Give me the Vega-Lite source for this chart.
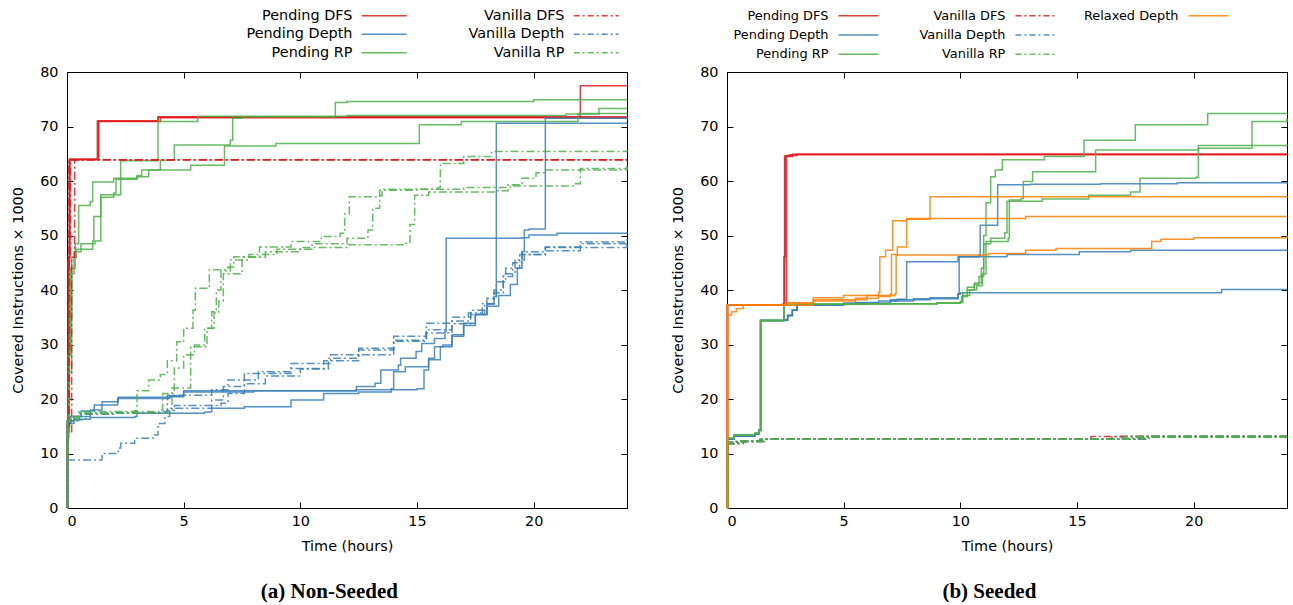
{
"$schema":"https://vega.github.io/schema/vega-lite/v6.json",
"background":"white",
"padding":{"left":10,"top":8,"right":4,"bottom":0},
"config":{
 "font":"DejaVu Sans",
 "view":{"stroke":"black","strokeWidth":1},
 "axis":{"grid":false,"labelFont":"DejaVu Sans","titleFont":"DejaVu Sans","labelFontSize":14.4,"titleFontSize":14.4,"titleFontWeight":"normal","labelColor":"#000","titleColor":"#000","domainColor":"#000","tickColor":"#000","domainWidth":1,"tickWidth":1,"tickSize":-6},
 "legend":{"orient":"none","title":null,"labelFont":"DejaVu Sans","labelFontSize":14.4,"labelColor":"#000","labelAlign":"right","symbolType":"M-4,0H4","symbolStrokeWidth":1.5,"rowPadding":3.5,"padding":0,"labelLimit":300}
},
"datasets":{
"aP":[
{"s":"Pending DFS","r":1,"t":0,"v":0},{"s":"Pending DFS","r":1,"t":0.02,"v":15},{"s":"Pending DFS","r":1,"t":0.05,"v":46},{"s":"Pending DFS","r":1,"t":0.1,"v":64},{"s":"Pending DFS","r":1,"t":1.34,"v":71},{"s":"Pending DFS","r":1,"t":3.9,"v":71.8},{"s":"Pending DFS","r":1,"t":24,"v":71.9},
{"s":"Pending DFS","r":2,"t":0,"v":0},{"s":"Pending DFS","r":2,"t":0.02,"v":14},{"s":"Pending DFS","r":2,"t":0.08,"v":46},{"s":"Pending DFS","r":2,"t":0.12,"v":64},{"s":"Pending DFS","r":2,"t":1.3,"v":71},{"s":"Pending DFS","r":2,"t":3.9,"v":71.7},{"s":"Pending DFS","r":2,"t":22,"v":77.5},{"s":"Pending DFS","r":2,"t":24,"v":77.5},
{"s":"Pending DFS","r":3,"t":0,"v":0},{"s":"Pending DFS","r":3,"t":0.02,"v":15},{"s":"Pending DFS","r":3,"t":0.06,"v":45},{"s":"Pending DFS","r":3,"t":0.11,"v":63.9},{"s":"Pending DFS","r":3,"t":1.36,"v":70.9},{"s":"Pending DFS","r":3,"t":4,"v":71.6},{"s":"Pending DFS","r":3,"t":24,"v":71.7},
{"s":"Pending Depth","r":1,"t":0,"v":0},{"s":"Pending Depth","r":1,"t":0.02,"v":15.5},{"s":"Pending Depth","r":1,"t":0.3,"v":16.3},{"s":"Pending Depth","r":1,"t":1,"v":16.6},{"s":"Pending Depth","r":1,"t":2.9,"v":16.8},{"s":"Pending Depth","r":1,"t":3,"v":17.4},{"s":"Pending Depth","r":1,"t":5.9,"v":17.6},{"s":"Pending Depth","r":1,"t":6.2,"v":18.3},{"s":"Pending Depth","r":1,"t":7.6,"v":18.6},{"s":"Pending Depth","r":1,"t":9.6,"v":19.8},{"s":"Pending Depth","r":1,"t":11,"v":21},{"s":"Pending Depth","r":1,"t":12.5,"v":21.3},{"s":"Pending Depth","r":1,"t":13.9,"v":21.9},{"s":"Pending Depth","r":1,"t":14,"v":25},{"s":"Pending Depth","r":1,"t":14.5,"v":25.9},{"s":"Pending Depth","r":1,"t":15.5,"v":27.5},{"s":"Pending Depth","r":1,"t":15.75,"v":29.6},{"s":"Pending Depth","r":1,"t":16.1,"v":29.9},{"s":"Pending Depth","r":1,"t":16.5,"v":31.5},{"s":"Pending Depth","r":1,"t":17,"v":33.5},{"s":"Pending Depth","r":1,"t":17.5,"v":35.5},{"s":"Pending Depth","r":1,"t":18,"v":37.5},{"s":"Pending Depth","r":1,"t":18.3,"v":38.8},{"s":"Pending Depth","r":1,"t":18.4,"v":70.6},{"s":"Pending Depth","r":1,"t":24,"v":70.7},
{"s":"Pending Depth","r":2,"t":0,"v":0},{"s":"Pending Depth","r":2,"t":0.02,"v":15.5},{"s":"Pending Depth","r":2,"t":0.16,"v":16.8},{"s":"Pending Depth","r":2,"t":0.6,"v":17.8},{"s":"Pending Depth","r":2,"t":1.17,"v":18.9},{"s":"Pending Depth","r":2,"t":2.17,"v":20.1},{"s":"Pending Depth","r":2,"t":4.4,"v":20.4},{"s":"Pending Depth","r":2,"t":5,"v":21.3},{"s":"Pending Depth","r":2,"t":8,"v":21.5},{"s":"Pending Depth","r":2,"t":12.4,"v":21.7},{"s":"Pending Depth","r":2,"t":15,"v":21.9},{"s":"Pending Depth","r":2,"t":15.3,"v":25.3},{"s":"Pending Depth","r":2,"t":15.5,"v":27.2},{"s":"Pending Depth","r":2,"t":16,"v":29.6},{"s":"Pending Depth","r":2,"t":16.5,"v":31.8},{"s":"Pending Depth","r":2,"t":17,"v":33.9},{"s":"Pending Depth","r":2,"t":17.5,"v":35.5},{"s":"Pending Depth","r":2,"t":18,"v":37},{"s":"Pending Depth","r":2,"t":18.5,"v":39},{"s":"Pending Depth","r":2,"t":19,"v":41},{"s":"Pending Depth","r":2,"t":19.3,"v":44},{"s":"Pending Depth","r":2,"t":19.5,"v":47},{"s":"Pending Depth","r":2,"t":19.6,"v":51},{"s":"Pending Depth","r":2,"t":19.8,"v":51.2},{"s":"Pending Depth","r":2,"t":20.5,"v":71.5},{"s":"Pending Depth","r":2,"t":24,"v":71.6},
{"s":"Pending Depth","r":3,"t":0,"v":0},{"s":"Pending Depth","r":3,"t":0.02,"v":16},{"s":"Pending Depth","r":3,"t":0.3,"v":16.8},{"s":"Pending Depth","r":3,"t":1,"v":18},{"s":"Pending Depth","r":3,"t":1.5,"v":19.5},{"s":"Pending Depth","r":3,"t":2.2,"v":20.3},{"s":"Pending Depth","r":3,"t":4.4,"v":20.6},{"s":"Pending Depth","r":3,"t":5,"v":21.5},{"s":"Pending Depth","r":3,"t":12.4,"v":22.3},{"s":"Pending Depth","r":3,"t":13.2,"v":22.9},{"s":"Pending Depth","r":3,"t":13.45,"v":25.3},{"s":"Pending Depth","r":3,"t":14.2,"v":26.2},{"s":"Pending Depth","r":3,"t":14.3,"v":27.5},{"s":"Pending Depth","r":3,"t":14.96,"v":28.7},{"s":"Pending Depth","r":3,"t":15.2,"v":30.2},{"s":"Pending Depth","r":3,"t":15.75,"v":31.1},{"s":"Pending Depth","r":3,"t":16.2,"v":32.4},{"s":"Pending Depth","r":3,"t":16.25,"v":49.5},{"s":"Pending Depth","r":3,"t":19.5,"v":49.6},{"s":"Pending Depth","r":3,"t":19.8,"v":50.1},{"s":"Pending Depth","r":3,"t":21,"v":50.4},{"s":"Pending Depth","r":3,"t":24,"v":50.7},
{"s":"Pending RP","r":1,"t":0,"v":0},{"s":"Pending RP","r":1,"t":0.02,"v":12},{"s":"Pending RP","r":1,"t":0.05,"v":28},{"s":"Pending RP","r":1,"t":0.15,"v":44},{"s":"Pending RP","r":1,"t":0.35,"v":48.5},{"s":"Pending RP","r":1,"t":0.5,"v":55.5},{"s":"Pending RP","r":1,"t":1,"v":56.2},{"s":"Pending RP","r":1,"t":1.1,"v":59.8},{"s":"Pending RP","r":1,"t":2,"v":60.5},{"s":"Pending RP","r":1,"t":2.3,"v":63.7},{"s":"Pending RP","r":1,"t":3.9,"v":70.9},{"s":"Pending RP","r":1,"t":5.6,"v":71.9},{"s":"Pending RP","r":1,"t":12,"v":72},{"s":"Pending RP","r":1,"t":21.4,"v":72.3},{"s":"Pending RP","r":1,"t":22.8,"v":73.3},{"s":"Pending RP","r":1,"t":24,"v":73.3},
{"s":"Pending RP","r":2,"t":0,"v":0},{"s":"Pending RP","r":2,"t":0.02,"v":14},{"s":"Pending RP","r":2,"t":0.1,"v":35},{"s":"Pending RP","r":2,"t":0.2,"v":46},{"s":"Pending RP","r":2,"t":0.4,"v":47.5},{"s":"Pending RP","r":2,"t":1.1,"v":49},{"s":"Pending RP","r":2,"t":1.15,"v":53.5},{"s":"Pending RP","r":2,"t":1.45,"v":57.5},{"s":"Pending RP","r":2,"t":2,"v":57.8},{"s":"Pending RP","r":2,"t":2.1,"v":60.3},{"s":"Pending RP","r":2,"t":3,"v":60.8},{"s":"Pending RP","r":2,"t":3.5,"v":62},{"s":"Pending RP","r":2,"t":4,"v":63.8},{"s":"Pending RP","r":2,"t":4.6,"v":66.6},{"s":"Pending RP","r":2,"t":7,"v":67.5},{"s":"Pending RP","r":2,"t":7.1,"v":71.5},{"s":"Pending RP","r":2,"t":7.5,"v":71.8},{"s":"Pending RP","r":2,"t":11.5,"v":74.4},{"s":"Pending RP","r":2,"t":12,"v":74.6},{"s":"Pending RP","r":2,"t":20,"v":74.9},{"s":"Pending RP","r":2,"t":24,"v":75},
{"s":"Pending RP","r":3,"t":0,"v":0},{"s":"Pending RP","r":3,"t":0.02,"v":13},{"s":"Pending RP","r":3,"t":0.08,"v":25},{"s":"Pending RP","r":3,"t":0.2,"v":43},{"s":"Pending RP","r":3,"t":0.3,"v":47},{"s":"Pending RP","r":3,"t":0.6,"v":48.5},{"s":"Pending RP","r":3,"t":1.2,"v":49},{"s":"Pending RP","r":3,"t":1.45,"v":57},{"s":"Pending RP","r":3,"t":2,"v":57.5},{"s":"Pending RP","r":3,"t":2.3,"v":60.5},{"s":"Pending RP","r":3,"t":3,"v":61},{"s":"Pending RP","r":3,"t":3.2,"v":62},{"s":"Pending RP","r":3,"t":5.3,"v":62.9},{"s":"Pending RP","r":3,"t":6.75,"v":66.4},{"s":"Pending RP","r":3,"t":8.95,"v":66.9},{"s":"Pending RP","r":3,"t":15.1,"v":70.3},{"s":"Pending RP","r":3,"t":16.9,"v":70.9},{"s":"Pending RP","r":3,"t":21.9,"v":72.4},{"s":"Pending RP","r":3,"t":24,"v":72.5}
],
"aV":[
{"s":"Vanilla DFS","r":1,"t":0,"v":0},{"s":"Vanilla DFS","r":1,"t":0.02,"v":15},{"s":"Vanilla DFS","r":1,"t":0.05,"v":45},{"s":"Vanilla DFS","r":1,"t":0.08,"v":63.9},{"s":"Vanilla DFS","r":1,"t":24,"v":63.9},
{"s":"Vanilla DFS","r":2,"t":0,"v":0},{"s":"Vanilla DFS","r":2,"t":0.02,"v":14},{"s":"Vanilla DFS","r":2,"t":0.2,"v":46},{"s":"Vanilla DFS","r":2,"t":0.33,"v":63.9},{"s":"Vanilla DFS","r":2,"t":24,"v":63.9},
{"s":"Vanilla DFS","r":3,"t":0,"v":0},{"s":"Vanilla DFS","r":3,"t":0.02,"v":15},{"s":"Vanilla DFS","r":3,"t":0.1,"v":46},{"s":"Vanilla DFS","r":3,"t":0.15,"v":63.9},{"s":"Vanilla DFS","r":3,"t":24,"v":64},
{"s":"Vanilla Depth","r":1,"t":0,"v":0},{"s":"Vanilla Depth","r":1,"t":0.02,"v":8.8},{"s":"Vanilla Depth","r":1,"t":0.5,"v":8.8},{"s":"Vanilla Depth","r":1,"t":1.5,"v":10},{"s":"Vanilla Depth","r":1,"t":2.2,"v":11},{"s":"Vanilla Depth","r":1,"t":2.3,"v":11.9},{"s":"Vanilla Depth","r":1,"t":2.9,"v":12.8},{"s":"Vanilla Depth","r":1,"t":3.7,"v":13.4},{"s":"Vanilla Depth","r":1,"t":3.9,"v":15.5},{"s":"Vanilla Depth","r":1,"t":4.2,"v":16.8},{"s":"Vanilla Depth","r":1,"t":4.4,"v":18.3},{"s":"Vanilla Depth","r":1,"t":6.2,"v":19.8},{"s":"Vanilla Depth","r":1,"t":6.7,"v":22.3},{"s":"Vanilla Depth","r":1,"t":7.6,"v":24.7},{"s":"Vanilla Depth","r":1,"t":9.6,"v":26.5},{"s":"Vanilla Depth","r":1,"t":11.3,"v":28.1},{"s":"Vanilla Depth","r":1,"t":12.5,"v":29},{"s":"Vanilla Depth","r":1,"t":14,"v":31.5},{"s":"Vanilla Depth","r":1,"t":15.4,"v":33.9},{"s":"Vanilla Depth","r":1,"t":16.5,"v":35},{"s":"Vanilla Depth","r":1,"t":17.3,"v":36.3},{"s":"Vanilla Depth","r":1,"t":18,"v":38.5},{"s":"Vanilla Depth","r":1,"t":18.4,"v":41.5},{"s":"Vanilla Depth","r":1,"t":18.8,"v":44},{"s":"Vanilla Depth","r":1,"t":19.4,"v":46.5},{"s":"Vanilla Depth","r":1,"t":20.5,"v":47.8},{"s":"Vanilla Depth","r":1,"t":22,"v":48.8},{"s":"Vanilla Depth","r":1,"t":24,"v":49.4},
{"s":"Vanilla Depth","r":2,"t":0,"v":0},{"s":"Vanilla Depth","r":2,"t":0.02,"v":16},{"s":"Vanilla Depth","r":2,"t":0.5,"v":17.2},{"s":"Vanilla Depth","r":2,"t":2,"v":17.5},{"s":"Vanilla Depth","r":2,"t":4,"v":17.7},{"s":"Vanilla Depth","r":2,"t":4.3,"v":20.7},{"s":"Vanilla Depth","r":2,"t":6.2,"v":21.7},{"s":"Vanilla Depth","r":2,"t":6.9,"v":23.5},{"s":"Vanilla Depth","r":2,"t":8.2,"v":25},{"s":"Vanilla Depth","r":2,"t":9.6,"v":25.6},{"s":"Vanilla Depth","r":2,"t":11,"v":27},{"s":"Vanilla Depth","r":2,"t":12.5,"v":28.1},{"s":"Vanilla Depth","r":2,"t":14,"v":30.8},{"s":"Vanilla Depth","r":2,"t":15.4,"v":32.7},{"s":"Vanilla Depth","r":2,"t":16.5,"v":34.3},{"s":"Vanilla Depth","r":2,"t":17.2,"v":35.8},{"s":"Vanilla Depth","r":2,"t":17.8,"v":37.5},{"s":"Vanilla Depth","r":2,"t":18.3,"v":40},{"s":"Vanilla Depth","r":2,"t":18.7,"v":43},{"s":"Vanilla Depth","r":2,"t":19.2,"v":45.5},{"s":"Vanilla Depth","r":2,"t":19.6,"v":46.5},{"s":"Vanilla Depth","r":2,"t":20.5,"v":47.2},{"s":"Vanilla Depth","r":2,"t":22,"v":47.8},{"s":"Vanilla Depth","r":2,"t":24,"v":48.4},
{"s":"Vanilla Depth","r":3,"t":0,"v":0},{"s":"Vanilla Depth","r":3,"t":0.02,"v":16.2},{"s":"Vanilla Depth","r":3,"t":0.8,"v":17.4},{"s":"Vanilla Depth","r":3,"t":4.3,"v":17.9},{"s":"Vanilla Depth","r":3,"t":4.6,"v":18.8},{"s":"Vanilla Depth","r":3,"t":6.6,"v":19.2},{"s":"Vanilla Depth","r":3,"t":6.9,"v":21},{"s":"Vanilla Depth","r":3,"t":7.6,"v":22.8},{"s":"Vanilla Depth","r":3,"t":8.5,"v":24.2},{"s":"Vanilla Depth","r":3,"t":10,"v":25.5},{"s":"Vanilla Depth","r":3,"t":11.2,"v":27.5},{"s":"Vanilla Depth","r":3,"t":12.5,"v":29.3},{"s":"Vanilla Depth","r":3,"t":14,"v":30.6},{"s":"Vanilla Depth","r":3,"t":15.4,"v":32.1},{"s":"Vanilla Depth","r":3,"t":16.5,"v":33.8},{"s":"Vanilla Depth","r":3,"t":17.3,"v":35.5},{"s":"Vanilla Depth","r":3,"t":17.9,"v":37.5},{"s":"Vanilla Depth","r":3,"t":18.3,"v":39.5},{"s":"Vanilla Depth","r":3,"t":18.7,"v":42.5},{"s":"Vanilla Depth","r":3,"t":19.1,"v":45},{"s":"Vanilla Depth","r":3,"t":19.5,"v":47},{"s":"Vanilla Depth","r":3,"t":20.5,"v":47.9},{"s":"Vanilla Depth","r":3,"t":22,"v":48.5},{"s":"Vanilla Depth","r":3,"t":24,"v":49},
{"s":"Vanilla RP","r":1,"t":0,"v":0},{"s":"Vanilla RP","r":1,"t":0.02,"v":16.5},{"s":"Vanilla RP","r":1,"t":0.5,"v":17.4},{"s":"Vanilla RP","r":1,"t":2.9,"v":17.9},{"s":"Vanilla RP","r":1,"t":3,"v":21.5},{"s":"Vanilla RP","r":1,"t":3.5,"v":23.5},{"s":"Vanilla RP","r":1,"t":4,"v":24.5},{"s":"Vanilla RP","r":1,"t":4.3,"v":27},{"s":"Vanilla RP","r":1,"t":4.7,"v":30.5},{"s":"Vanilla RP","r":1,"t":5,"v":33},{"s":"Vanilla RP","r":1,"t":5.4,"v":36.3},{"s":"Vanilla RP","r":1,"t":5.5,"v":40.3},{"s":"Vanilla RP","r":1,"t":6.1,"v":43.7},{"s":"Vanilla RP","r":1,"t":6.9,"v":44.2},{"s":"Vanilla RP","r":1,"t":7.15,"v":46.1},{"s":"Vanilla RP","r":1,"t":8.25,"v":47.9},{"s":"Vanilla RP","r":1,"t":9.6,"v":48.9},{"s":"Vanilla RP","r":1,"t":10.9,"v":49.8},{"s":"Vanilla RP","r":1,"t":11.7,"v":50.4},{"s":"Vanilla RP","r":1,"t":11.9,"v":54},{"s":"Vanilla RP","r":1,"t":12.1,"v":57.1},{"s":"Vanilla RP","r":1,"t":13.4,"v":57.3},{"s":"Vanilla RP","r":1,"t":13.5,"v":58.5},{"s":"Vanilla RP","r":1,"t":15.9,"v":58.8},{"s":"Vanilla RP","r":1,"t":16,"v":63.2},{"s":"Vanilla RP","r":1,"t":17,"v":64.5},{"s":"Vanilla RP","r":1,"t":18.2,"v":65.4},{"s":"Vanilla RP","r":1,"t":24,"v":65.7},
{"s":"Vanilla RP","r":2,"t":0,"v":0},{"s":"Vanilla RP","r":2,"t":0.02,"v":16.8},{"s":"Vanilla RP","r":2,"t":0.5,"v":17.7},{"s":"Vanilla RP","r":2,"t":4,"v":18},{"s":"Vanilla RP","r":2,"t":4.1,"v":21},{"s":"Vanilla RP","r":2,"t":4.6,"v":25.7},{"s":"Vanilla RP","r":2,"t":5,"v":28.1},{"s":"Vanilla RP","r":2,"t":5.46,"v":29.9},{"s":"Vanilla RP","r":2,"t":5.9,"v":33},{"s":"Vanilla RP","r":2,"t":6.2,"v":36},{"s":"Vanilla RP","r":2,"t":6.4,"v":40},{"s":"Vanilla RP","r":2,"t":6.6,"v":43.5},{"s":"Vanilla RP","r":2,"t":7,"v":45.5},{"s":"Vanilla RP","r":2,"t":7.8,"v":46.5},{"s":"Vanilla RP","r":2,"t":9,"v":47.5},{"s":"Vanilla RP","r":2,"t":10.5,"v":48.5},{"s":"Vanilla RP","r":2,"t":12,"v":49.5},{"s":"Vanilla RP","r":2,"t":12.9,"v":51},{"s":"Vanilla RP","r":2,"t":13.1,"v":55},{"s":"Vanilla RP","r":2,"t":13.4,"v":58.3},{"s":"Vanilla RP","r":2,"t":15,"v":58.5},{"s":"Vanilla RP","r":2,"t":17,"v":58.8},{"s":"Vanilla RP","r":2,"t":19,"v":59.1},{"s":"Vanilla RP","r":2,"t":21.7,"v":59.5},{"s":"Vanilla RP","r":2,"t":22,"v":62.3},{"s":"Vanilla RP","r":2,"t":24,"v":62.8},
{"s":"Vanilla RP","r":3,"t":0,"v":0},{"s":"Vanilla RP","r":3,"t":0.02,"v":16.2},{"s":"Vanilla RP","r":3,"t":0.5,"v":17.4},{"s":"Vanilla RP","r":3,"t":4.3,"v":17.7},{"s":"Vanilla RP","r":3,"t":4.5,"v":22},{"s":"Vanilla RP","r":3,"t":5.3,"v":29.6},{"s":"Vanilla RP","r":3,"t":6,"v":33},{"s":"Vanilla RP","r":3,"t":6.3,"v":35.8},{"s":"Vanilla RP","r":3,"t":6.5,"v":38},{"s":"Vanilla RP","r":3,"t":6.7,"v":43},{"s":"Vanilla RP","r":3,"t":7.5,"v":46},{"s":"Vanilla RP","r":3,"t":8.5,"v":47},{"s":"Vanilla RP","r":3,"t":10,"v":47.8},{"s":"Vanilla RP","r":3,"t":12,"v":48.3},{"s":"Vanilla RP","r":3,"t":14.5,"v":48.6},{"s":"Vanilla RP","r":3,"t":14.7,"v":52},{"s":"Vanilla RP","r":3,"t":14.9,"v":57.4},{"s":"Vanilla RP","r":3,"t":15.5,"v":58},{"s":"Vanilla RP","r":3,"t":18.3,"v":58.2},{"s":"Vanilla RP","r":3,"t":18.9,"v":59.3},{"s":"Vanilla RP","r":3,"t":19.5,"v":60.5},{"s":"Vanilla RP","r":3,"t":20.1,"v":61.5},{"s":"Vanilla RP","r":3,"t":20.5,"v":62},{"s":"Vanilla RP","r":3,"t":24,"v":62.3}
],
"bP":[
{"s":"Pending DFS","r":1,"t":0,"v":0},{"s":"Pending DFS","r":1,"t":0.02,"v":37.2},{"s":"Pending DFS","r":1,"t":2.4,"v":37.4},{"s":"Pending DFS","r":1,"t":2.44,"v":46.1},{"s":"Pending DFS","r":1,"t":2.5,"v":64.5},{"s":"Pending DFS","r":1,"t":2.8,"v":64.9},{"s":"Pending DFS","r":1,"t":24,"v":64.9},
{"s":"Pending DFS","r":2,"t":0,"v":0},{"s":"Pending DFS","r":2,"t":0.02,"v":37.3},{"s":"Pending DFS","r":2,"t":2.42,"v":37.5},{"s":"Pending DFS","r":2,"t":2.47,"v":64.6},{"s":"Pending DFS","r":2,"t":2.7,"v":64.8},{"s":"Pending DFS","r":2,"t":24,"v":65},
{"s":"Pending DFS","r":3,"t":0,"v":0},{"s":"Pending DFS","r":3,"t":0.02,"v":37.2},{"s":"Pending DFS","r":3,"t":2.5,"v":37.6},{"s":"Pending DFS","r":3,"t":2.55,"v":64.7},{"s":"Pending DFS","r":3,"t":3,"v":64.9},{"s":"Pending DFS","r":3,"t":24,"v":64.9},
{"s":"Pending Depth","r":1,"t":0,"v":0},{"s":"Pending Depth","r":1,"t":0.02,"v":12.6},{"s":"Pending Depth","r":1,"t":0.3,"v":13.2},{"s":"Pending Depth","r":1,"t":1.2,"v":13.6},{"s":"Pending Depth","r":1,"t":1.37,"v":14.2},{"s":"Pending Depth","r":1,"t":1.44,"v":34.4},{"s":"Pending Depth","r":1,"t":2.44,"v":34.5},{"s":"Pending Depth","r":1,"t":2.6,"v":35.3},{"s":"Pending Depth","r":1,"t":2.8,"v":36.3},{"s":"Pending Depth","r":1,"t":3,"v":37.2},{"s":"Pending Depth","r":1,"t":4,"v":37.4},{"s":"Pending Depth","r":1,"t":5.5,"v":37.7},{"s":"Pending Depth","r":1,"t":6.5,"v":38},{"s":"Pending Depth","r":1,"t":7.3,"v":38.3},{"s":"Pending Depth","r":1,"t":7.7,"v":45.2},{"s":"Pending Depth","r":1,"t":9.9,"v":46.1},{"s":"Pending Depth","r":1,"t":12,"v":46.5},{"s":"Pending Depth","r":1,"t":15.1,"v":47},{"s":"Pending Depth","r":1,"t":17.3,"v":47.3},{"s":"Pending Depth","r":1,"t":24,"v":47.4},
{"s":"Pending Depth","r":2,"t":0,"v":0},{"s":"Pending Depth","r":2,"t":0.02,"v":12.6},{"s":"Pending Depth","r":2,"t":0.3,"v":13.2},{"s":"Pending Depth","r":2,"t":1.2,"v":13.6},{"s":"Pending Depth","r":2,"t":1.37,"v":14.2},{"s":"Pending Depth","r":2,"t":1.44,"v":34.4},{"s":"Pending Depth","r":2,"t":2.44,"v":34.5},{"s":"Pending Depth","r":2,"t":2.6,"v":35.3},{"s":"Pending Depth","r":2,"t":2.8,"v":36.3},{"s":"Pending Depth","r":2,"t":3,"v":37.2},{"s":"Pending Depth","r":2,"t":5,"v":37.6},{"s":"Pending Depth","r":2,"t":7,"v":38.2},{"s":"Pending Depth","r":2,"t":8.7,"v":38.6},{"s":"Pending Depth","r":2,"t":9.9,"v":39.3},{"s":"Pending Depth","r":2,"t":9.95,"v":46.1},{"s":"Pending Depth","r":2,"t":10.8,"v":46.4},{"s":"Pending Depth","r":2,"t":10.85,"v":51.9},{"s":"Pending Depth","r":2,"t":11.6,"v":59.3},{"s":"Pending Depth","r":2,"t":13,"v":59.4},{"s":"Pending Depth","r":2,"t":16,"v":59.5},{"s":"Pending Depth","r":2,"t":19.3,"v":59.7},{"s":"Pending Depth","r":2,"t":24,"v":59.8},
{"s":"Pending Depth","r":3,"t":0,"v":0},{"s":"Pending Depth","r":3,"t":0.02,"v":12.6},{"s":"Pending Depth","r":3,"t":0.3,"v":13.2},{"s":"Pending Depth","r":3,"t":1.2,"v":13.6},{"s":"Pending Depth","r":3,"t":1.37,"v":14.2},{"s":"Pending Depth","r":3,"t":1.44,"v":34.4},{"s":"Pending Depth","r":3,"t":2.44,"v":34.5},{"s":"Pending Depth","r":3,"t":2.6,"v":35.3},{"s":"Pending Depth","r":3,"t":2.8,"v":36.3},{"s":"Pending Depth","r":3,"t":3,"v":37.2},{"s":"Pending Depth","r":3,"t":5,"v":37.5},{"s":"Pending Depth","r":3,"t":7,"v":38},{"s":"Pending Depth","r":3,"t":8,"v":38.4},{"s":"Pending Depth","r":3,"t":9.9,"v":39.2},{"s":"Pending Depth","r":3,"t":10,"v":39.5},{"s":"Pending Depth","r":3,"t":21.2,"v":40.1},{"s":"Pending Depth","r":3,"t":24,"v":40.1},
{"s":"Pending RP","r":1,"t":0,"v":0},{"s":"Pending RP","r":1,"t":0.02,"v":12.8},{"s":"Pending RP","r":1,"t":0.3,"v":13.4},{"s":"Pending RP","r":1,"t":1.2,"v":13.7},{"s":"Pending RP","r":1,"t":1.37,"v":14.3},{"s":"Pending RP","r":1,"t":1.44,"v":34.4},{"s":"Pending RP","r":1,"t":2.44,"v":37.2},{"s":"Pending RP","r":1,"t":3,"v":37.4},{"s":"Pending RP","r":1,"t":6,"v":37.5},{"s":"Pending RP","r":1,"t":9,"v":37.6},{"s":"Pending RP","r":1,"t":10,"v":37.9},{"s":"Pending RP","r":1,"t":10.1,"v":39.5},{"s":"Pending RP","r":1,"t":10.3,"v":40.5},{"s":"Pending RP","r":1,"t":10.6,"v":41.3},{"s":"Pending RP","r":1,"t":10.9,"v":44},{"s":"Pending RP","r":1,"t":11,"v":50},{"s":"Pending RP","r":1,"t":11.1,"v":56},{"s":"Pending RP","r":1,"t":11.3,"v":60.8},{"s":"Pending RP","r":1,"t":11.5,"v":62},{"s":"Pending RP","r":1,"t":11.8,"v":63.9},{"s":"Pending RP","r":1,"t":13.6,"v":64.5},{"s":"Pending RP","r":1,"t":15.3,"v":67.5},{"s":"Pending RP","r":1,"t":17.5,"v":70.3},{"s":"Pending RP","r":1,"t":20.6,"v":72.4},{"s":"Pending RP","r":1,"t":24,"v":72.5},
{"s":"Pending RP","r":2,"t":0,"v":0},{"s":"Pending RP","r":2,"t":0.02,"v":12.8},{"s":"Pending RP","r":2,"t":0.3,"v":13.4},{"s":"Pending RP","r":2,"t":1.2,"v":13.7},{"s":"Pending RP","r":2,"t":1.37,"v":14.3},{"s":"Pending RP","r":2,"t":1.44,"v":34.4},{"s":"Pending RP","r":2,"t":2.44,"v":37.2},{"s":"Pending RP","r":2,"t":3,"v":37.4},{"s":"Pending RP","r":2,"t":6,"v":37.5},{"s":"Pending RP","r":2,"t":9,"v":37.6},{"s":"Pending RP","r":2,"t":10,"v":37.8},{"s":"Pending RP","r":2,"t":10.05,"v":38.8},{"s":"Pending RP","r":2,"t":10.3,"v":40},{"s":"Pending RP","r":2,"t":10.6,"v":41},{"s":"Pending RP","r":2,"t":10.8,"v":42.5},{"s":"Pending RP","r":2,"t":11,"v":48.5},{"s":"Pending RP","r":2,"t":11.3,"v":49.5},{"s":"Pending RP","r":2,"t":11.9,"v":50.5},{"s":"Pending RP","r":2,"t":12,"v":56.3},{"s":"Pending RP","r":2,"t":13.5,"v":56.7},{"s":"Pending RP","r":2,"t":15.5,"v":57.4},{"s":"Pending RP","r":2,"t":17.3,"v":58},{"s":"Pending RP","r":2,"t":17.7,"v":60.5},{"s":"Pending RP","r":2,"t":20.1,"v":60.7},{"s":"Pending RP","r":2,"t":20.2,"v":66},{"s":"Pending RP","r":2,"t":22.5,"v":70.9},{"s":"Pending RP","r":2,"t":24,"v":71.5},
{"s":"Pending RP","r":3,"t":0,"v":0},{"s":"Pending RP","r":3,"t":0.02,"v":12.8},{"s":"Pending RP","r":3,"t":0.3,"v":13.4},{"s":"Pending RP","r":3,"t":1.2,"v":13.7},{"s":"Pending RP","r":3,"t":1.37,"v":14.3},{"s":"Pending RP","r":3,"t":1.44,"v":34.4},{"s":"Pending RP","r":3,"t":2.44,"v":37.2},{"s":"Pending RP","r":3,"t":3,"v":37.4},{"s":"Pending RP","r":3,"t":6,"v":37.5},{"s":"Pending RP","r":3,"t":9,"v":37.6},{"s":"Pending RP","r":3,"t":10,"v":37.7},{"s":"Pending RP","r":3,"t":10.1,"v":39},{"s":"Pending RP","r":3,"t":10.4,"v":40},{"s":"Pending RP","r":3,"t":10.7,"v":40.8},{"s":"Pending RP","r":3,"t":10.95,"v":43},{"s":"Pending RP","r":3,"t":11.1,"v":48.9},{"s":"Pending RP","r":3,"t":12.05,"v":49.5},{"s":"Pending RP","r":3,"t":12.1,"v":56.5},{"s":"Pending RP","r":3,"t":12.6,"v":56.8},{"s":"Pending RP","r":3,"t":12.7,"v":59.9},{"s":"Pending RP","r":3,"t":13.1,"v":61.7},{"s":"Pending RP","r":3,"t":15.8,"v":65.7},{"s":"Pending RP","r":3,"t":20.2,"v":66.5},{"s":"Pending RP","r":3,"t":24,"v":66.4}
],
"bV":[
{"s":"Vanilla DFS","r":1,"t":0,"v":0},{"s":"Vanilla DFS","r":1,"t":0.02,"v":11.8},{"s":"Vanilla DFS","r":1,"t":0.3,"v":12.1},{"s":"Vanilla DFS","r":1,"t":0.8,"v":12.3},{"s":"Vanilla DFS","r":1,"t":1.5,"v":12.6},{"s":"Vanilla DFS","r":1,"t":15.5,"v":12.7},{"s":"Vanilla DFS","r":1,"t":15.6,"v":13.1},{"s":"Vanilla DFS","r":1,"t":24,"v":13.1},
{"s":"Vanilla DFS","r":2,"t":0,"v":0},{"s":"Vanilla DFS","r":2,"t":0.02,"v":12},{"s":"Vanilla DFS","r":2,"t":0.5,"v":12.3},{"s":"Vanilla DFS","r":2,"t":1.5,"v":12.6},{"s":"Vanilla DFS","r":2,"t":16.4,"v":12.7},{"s":"Vanilla DFS","r":2,"t":16.5,"v":13.1},{"s":"Vanilla DFS","r":2,"t":24,"v":13.1},
{"s":"Vanilla DFS","r":3,"t":0,"v":0},{"s":"Vanilla DFS","r":3,"t":0.02,"v":11.9},{"s":"Vanilla DFS","r":3,"t":0.6,"v":12.2},{"s":"Vanilla DFS","r":3,"t":1.6,"v":12.6},{"s":"Vanilla DFS","r":3,"t":17.8,"v":12.8},{"s":"Vanilla DFS","r":3,"t":17.9,"v":13.1},{"s":"Vanilla DFS","r":3,"t":24,"v":13.1},
{"s":"Vanilla Depth","r":1,"t":0,"v":0},{"s":"Vanilla Depth","r":1,"t":0.02,"v":11.9},{"s":"Vanilla Depth","r":1,"t":0.4,"v":12.2},{"s":"Vanilla Depth","r":1,"t":1.4,"v":12.6},{"s":"Vanilla Depth","r":1,"t":17.5,"v":12.8},{"s":"Vanilla Depth","r":1,"t":17.7,"v":13.1},{"s":"Vanilla Depth","r":1,"t":24,"v":13.1},
{"s":"Vanilla Depth","r":2,"t":0,"v":0},{"s":"Vanilla Depth","r":2,"t":0.02,"v":12.1},{"s":"Vanilla Depth","r":2,"t":0.5,"v":12.3},{"s":"Vanilla Depth","r":2,"t":1.5,"v":12.6},{"s":"Vanilla Depth","r":2,"t":16.8,"v":12.8},{"s":"Vanilla Depth","r":2,"t":17,"v":13.1},{"s":"Vanilla Depth","r":2,"t":24,"v":13.1},
{"s":"Vanilla Depth","r":3,"t":0,"v":0},{"s":"Vanilla Depth","r":3,"t":0.02,"v":11.8},{"s":"Vanilla Depth","r":3,"t":0.7,"v":12.2},{"s":"Vanilla Depth","r":3,"t":1.5,"v":12.6},{"s":"Vanilla Depth","r":3,"t":18,"v":12.8},{"s":"Vanilla Depth","r":3,"t":18.2,"v":13.1},{"s":"Vanilla Depth","r":3,"t":24,"v":13.1},
{"s":"Vanilla RP","r":1,"t":0,"v":0},{"s":"Vanilla RP","r":1,"t":0.02,"v":11.9},{"s":"Vanilla RP","r":1,"t":0.5,"v":12.2},{"s":"Vanilla RP","r":1,"t":1.5,"v":12.6},{"s":"Vanilla RP","r":1,"t":16.9,"v":12.8},{"s":"Vanilla RP","r":1,"t":17,"v":13.1},{"s":"Vanilla RP","r":1,"t":24,"v":13.1},
{"s":"Vanilla RP","r":2,"t":0,"v":0},{"s":"Vanilla RP","r":2,"t":0.02,"v":12},{"s":"Vanilla RP","r":2,"t":0.4,"v":12.3},{"s":"Vanilla RP","r":2,"t":1.4,"v":12.6},{"s":"Vanilla RP","r":2,"t":17.8,"v":12.8},{"s":"Vanilla RP","r":2,"t":17.9,"v":13.1},{"s":"Vanilla RP","r":2,"t":24,"v":13.1},
{"s":"Vanilla RP","r":3,"t":0,"v":0},{"s":"Vanilla RP","r":3,"t":0.02,"v":11.8},{"s":"Vanilla RP","r":3,"t":0.6,"v":12.2},{"s":"Vanilla RP","r":3,"t":1.6,"v":12.6},{"s":"Vanilla RP","r":3,"t":17.2,"v":12.8},{"s":"Vanilla RP","r":3,"t":17.4,"v":13},{"s":"Vanilla RP","r":3,"t":24,"v":13.1}
],
"bR":[
{"s":"Relaxed Depth","r":1,"t":0,"v":0},{"s":"Relaxed Depth","r":1,"t":0.02,"v":37.2},{"s":"Relaxed Depth","r":1,"t":2.5,"v":37.6},{"s":"Relaxed Depth","r":1,"t":3.7,"v":38.6},{"s":"Relaxed Depth","r":1,"t":5,"v":39},{"s":"Relaxed Depth","r":1,"t":6.5,"v":39.6},{"s":"Relaxed Depth","r":1,"t":6.55,"v":46.1},{"s":"Relaxed Depth","r":1,"t":6.8,"v":47.3},{"s":"Relaxed Depth","r":1,"t":7.1,"v":52.7},{"s":"Relaxed Depth","r":1,"t":7.7,"v":53},{"s":"Relaxed Depth","r":1,"t":8.7,"v":57.1},{"s":"Relaxed Depth","r":1,"t":24,"v":57.2},
{"s":"Relaxed Depth","r":2,"t":0,"v":0},{"s":"Relaxed Depth","r":2,"t":0.02,"v":35.4},{"s":"Relaxed Depth","r":2,"t":0.2,"v":36},{"s":"Relaxed Depth","r":2,"t":0.4,"v":36.6},{"s":"Relaxed Depth","r":2,"t":0.7,"v":37.2},{"s":"Relaxed Depth","r":2,"t":3.7,"v":38},{"s":"Relaxed Depth","r":2,"t":5.5,"v":38.5},{"s":"Relaxed Depth","r":2,"t":6.5,"v":38.8},{"s":"Relaxed Depth","r":2,"t":7,"v":39.2},{"s":"Relaxed Depth","r":2,"t":7.05,"v":46.5},{"s":"Relaxed Depth","r":2,"t":7.3,"v":47.9},{"s":"Relaxed Depth","r":2,"t":7.7,"v":53.1},{"s":"Relaxed Depth","r":2,"t":12.8,"v":53.5},{"s":"Relaxed Depth","r":2,"t":24,"v":53.5},
{"s":"Relaxed Depth","r":3,"t":0,"v":0},{"s":"Relaxed Depth","r":3,"t":0.02,"v":37.3},{"s":"Relaxed Depth","r":3,"t":2.5,"v":37.6},{"s":"Relaxed Depth","r":3,"t":3.7,"v":38.2},{"s":"Relaxed Depth","r":3,"t":6,"v":39},{"s":"Relaxed Depth","r":3,"t":7.2,"v":39.3},{"s":"Relaxed Depth","r":3,"t":7.25,"v":46.4},{"s":"Relaxed Depth","r":3,"t":11.2,"v":46.7},{"s":"Relaxed Depth","r":3,"t":12.8,"v":47.3},{"s":"Relaxed Depth","r":3,"t":14.1,"v":47.6},{"s":"Relaxed Depth","r":3,"t":18.2,"v":48.9},{"s":"Relaxed Depth","r":3,"t":18.6,"v":49.3},{"s":"Relaxed Depth","r":3,"t":20,"v":49.6},{"s":"Relaxed Depth","r":3,"t":24,"v":50}
]
},
"spacing":39,
"resolve":{"scale":{"color":"independent"},"legend":{"color":"independent"}},
"hconcat":[
{
 "width":560,"height":436,
 "title":{"text":"(a) Non-Seeded","orient":"bottom","frame":"bounds","font":"Liberation Serif","fontSize":21,"fontWeight":"bold","color":"#000","offset":28,"dx":9},
 "layer":[
  {"data":{"name":"aP"},
   "mark":{"type":"line","interpolate":"step-after","strokeWidth":1.5,"opacity":0.85},
   "encoding":{
    "x":{"field":"t","type":"quantitative","scale":{"domain":[0,24],"nice":false},"axis":{"title":"Time (hours)","values":[0,5,10,15,20],"labelPadding":12,"titlePadding":12}},
    "y":{"field":"v","type":"quantitative","scale":{"domain":[0,80],"nice":false},"axis":{"title":"Covered Instructions × 1000","values":[0,10,20,30,40,50,60,70,80],"labelPadding":15,"titlePadding":14}},
    "color":{"field":"s","type":"nominal","scale":{"domain":["Pending DFS","Pending Depth","Pending RP"],"range":["#e41a1c","#377eb8","#4daf4a"]},"legend":{"legendX":310,"legendY":-63.4,"symbolSize":126.5625,"labelOffset":-39}},
    "detail":{"field":"r"}
   }},
  {"data":{"name":"aV"},
   "mark":{"type":"line","interpolate":"step-after","strokeWidth":1.5,"opacity":0.85,"strokeDash":[8,3,2,3]},
   "encoding":{
    "x":{"field":"t","type":"quantitative","scale":{"domain":[0,24],"nice":false},"axis":{"orient":"top","labels":false,"title":null,"values":[0,5,10,15,20]}},
    "y":{"field":"v","type":"quantitative","scale":{"domain":[0,80],"nice":false},"axis":{"orient":"right","labels":false,"title":null,"values":[0,10,20,30,40,50,60,70,80]}},
    "color":{"field":"s","type":"nominal","scale":{"domain":["Vanilla DFS","Vanilla Depth","Vanilla RP"],"range":["#e41a1c","#377eb8","#4daf4a"]},"legend":{"legendX":522,"legendY":-63.4,"symbolSize":126.5625,"labelOffset":-39,"symbolDash":[6,3,2,3]}},
    "detail":{"field":"r"}
   }}
 ],
 "resolve":{"scale":{"color":"independent"},"legend":{"color":"independent"},"axis":{"x":"independent","y":"independent"}}
},
{
 "width":560,"height":436,
 "title":{"text":"(b) Seeded","orient":"bottom","frame":"bounds","font":"Liberation Serif","fontSize":21,"fontWeight":"bold","color":"#000","offset":28,"dx":9},
 "layer":[
  {"data":{"name":"bP"},
   "mark":{"type":"line","interpolate":"step-after","strokeWidth":1.5,"opacity":0.85},
   "encoding":{
    "x":{"field":"t","type":"quantitative","scale":{"domain":[0,24],"nice":false},"axis":{"title":"Time (hours)","values":[0,5,10,15,20],"labelPadding":12,"titlePadding":12}},
    "y":{"field":"v","type":"quantitative","scale":{"domain":[0,80],"nice":false},"axis":{"title":"Covered Instructions × 1000","values":[0,10,20,30,40,50,60,70,80],"labelPadding":15,"titlePadding":14}},
    "color":{"field":"s","type":"nominal","scale":{"domain":["Pending DFS","Pending Depth","Pending RP"],"range":["#e41a1c","#377eb8","#4daf4a"]},"legend":{"legendX":125,"legendY":-62.7,"symbolSize":100,"labelOffset":-36.5,"labelFontSize":12.9,"rowPadding":5.3}},
    "detail":{"field":"r"}
   }},
  {"data":{"name":"bV"},
   "mark":{"type":"line","interpolate":"step-after","strokeWidth":1.5,"opacity":0.85,"strokeDash":[8,3,2,3]},
   "encoding":{
    "x":{"field":"t","type":"quantitative","scale":{"domain":[0,24],"nice":false},"axis":{"orient":"top","labels":false,"title":null,"values":[0,5,10,15,20]}},
    "y":{"field":"v","type":"quantitative","scale":{"domain":[0,80],"nice":false},"axis":{"orient":"right","labels":false,"title":null,"values":[0,10,20,30,40,50,60,70,80]}},
    "color":{"field":"s","type":"nominal","scale":{"domain":["Vanilla DFS","Vanilla Depth","Vanilla RP"],"range":["#e41a1c","#377eb8","#4daf4a"]},"legend":{"legendX":302,"legendY":-62.7,"symbolSize":100,"labelOffset":-36.5,"labelFontSize":12.9,"rowPadding":5.3,"symbolDash":[6,3,2,3]}},
    "detail":{"field":"r"}
   }},
  {"data":{"name":"bR"},
   "mark":{"type":"line","interpolate":"step-after","strokeWidth":1.5,"opacity":0.85},
   "encoding":{
    "x":{"field":"t","type":"quantitative","scale":{"domain":[0,24],"nice":false},"axis":null},
    "y":{"field":"v","type":"quantitative","scale":{"domain":[0,80],"nice":false},"axis":null},
    "color":{"field":"s","type":"nominal","scale":{"domain":["Relaxed Depth"],"range":["#ff7f00"]},"legend":{"legendX":475,"legendY":-62.7,"symbolSize":100,"labelOffset":-36.5,"labelFontSize":12.9,"rowPadding":5.3}},
    "detail":{"field":"r"}
   }}
 ],
 "resolve":{"scale":{"color":"independent"},"legend":{"color":"independent"},"axis":{"x":"independent","y":"independent"}}
}
]
}
